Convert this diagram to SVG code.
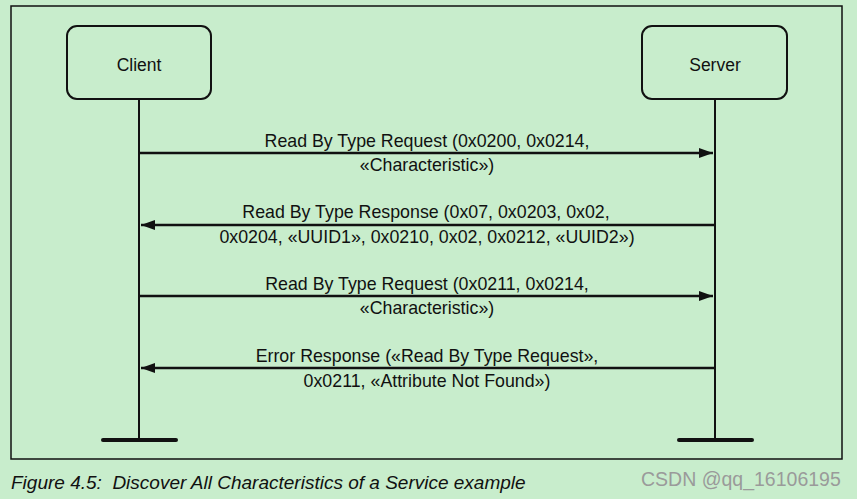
<svg xmlns="http://www.w3.org/2000/svg" width="857" height="499" viewBox="0 0 857 499">
<style>
.bg{fill:#c8edcc}
.box{fill:#c8edcc;stroke:#111;stroke-width:2}
.life{stroke:#111;stroke-width:2;fill:none}
.bar{stroke:#111;stroke-width:4;stroke-linecap:round}
.msg{stroke:#111;stroke-width:2.5;fill:none}
text{font-family:"Liberation Sans",Arial,sans-serif;fill:#111}
.lbl{font-size:17.8px;text-anchor:middle}
.node{font-size:17.5px;text-anchor:middle}
.cap{font-size:19px;font-style:italic}
.wm{font-size:19.5px;fill:#9a9a9a}
</style>
<defs>
<marker id="ah" viewBox="0 0 14 10" refX="14" refY="5" markerWidth="14" markerHeight="10" markerUnits="userSpaceOnUse" orient="auto">
<path d="M0,0 L14,5 L0,10 Z" fill="#111"/>
</marker>
</defs>
<rect class="bg" x="0" y="0" width="857" height="499"/>
<rect x="11" y="6" width="831" height="453" fill="none" stroke="#111" stroke-width="1.5"/>
<g id="client">
<rect class="box" x="67" y="26" width="144" height="73" rx="10"/>
<text class="node" x="139" y="71">Client</text>
<line class="life" x1="139" y1="99" x2="139" y2="440"/>
<line class="bar" x1="103" y1="440" x2="176" y2="440"/>
</g>
<g id="server">
<rect class="box" x="642" y="26" width="145" height="73" rx="10"/>
<text class="node" x="715" y="71">Server</text>
<line class="life" x1="715" y1="99" x2="715" y2="440"/>
<line class="bar" x1="679" y1="440" x2="752" y2="440"/>
</g>
<g id="connectors">
<line class="msg" x1="139" y1="153" x2="713" y2="153" marker-end="url(#ah)"/>
<line class="msg" x1="715" y1="225" x2="141" y2="225" marker-end="url(#ah)"/>
<line class="msg" x1="139" y1="296" x2="713" y2="296" marker-end="url(#ah)"/>
<line class="msg" x1="715" y1="368" x2="141" y2="368" marker-end="url(#ah)"/>
</g>
<g id="labels">
<text class="lbl" x="427" y="147">Read By Type Request (0x0200, 0x0214,</text>
<text class="lbl" x="427" y="171">«Characteristic»)</text>
<text class="lbl" x="426" y="218">Read By Type Response (0x07, 0x0203, 0x02,</text>
<text class="lbl" x="427" y="243">0x0204, «UUID1», 0x0210, 0x02, 0x0212, «UUID2»)</text>
<text class="lbl" x="427" y="290">Read By Type Request (0x0211, 0x0214,</text>
<text class="lbl" x="427" y="314">«Characteristic»)</text>
<text class="lbl" x="427" y="362">Error Response («Read By Type Request»,</text>
<text class="lbl" x="427" y="387">0x0211, «Attribute Not Found»)</text>
</g>
<text class="cap" x="11" y="489" xml:space="preserve">Figure 4.5:  Discover All Characteristics of a Service example</text>
<text class="wm" x="641" y="486">CSDN @qq_16106195</text>
</svg>
